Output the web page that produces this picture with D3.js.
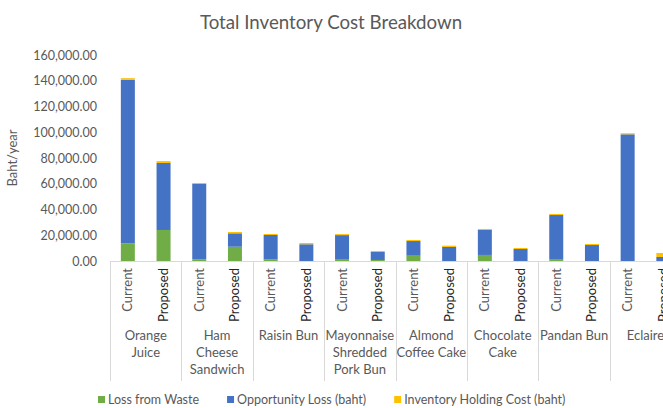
<!DOCTYPE html>
<html>
<head>
<meta charset="utf-8">
<script src="https://cdn.jsdelivr.net/npm/d3@7"></script>
<style>
  html, body { margin: 0; padding: 0; background: #fff; overflow: hidden; }
  svg { display: block; font-family: Lato, "Open Sans", sans-serif; }
</style>
</head>
<body>
<svg id="chart" width="663" height="408"></svg>
<script>
// Products (outer axis level) and their wrapped label lines
const categories = ["Orange Juice", "Ham Cheese Sandwich", "Raisin Bun",
  "Mayonnaise Shredded Pork Bun", "Almond Coffee Cake", "Chocolate Cake",
  "Pandan Bun", "Eclaire"];
const categoryLines = [["Orange", "Juice"], ["Ham", "Cheese", "Sandwich"], ["Raisin Bun"],
  ["Mayonnaise", "Shredded", "Pork Bun"], ["Almond", "Coffee Cake"], ["Chocolate", "Cake"],
  ["Pandan Bun"], ["Eclaire"]];
// Scenarios (inner axis level)
const scenarios = ["Current", "Proposed"];

// Values in baht/year, ordered product by product: Current, Proposed
const lossFromWaste = [13700, 24100, 1300, 11100, 1300, 0, 1500, 800,
  4100, 0, 4700, 0, 1500, 0, 0, 0];
const opportunityLoss = [127000, 52000, 58500, 10400, 18900, 13000, 18600, 6200,
  11400, 10900, 19400, 9300, 34200, 12400, 98400, 3100];
const holdingCost = [1300, 1500, 800, 1000, 800, 1000, 800, 800,
  800, 1000, 800, 800, 800, 800, 800, 3100];

const seriesNames = ["Loss from Waste", "Opportunity Loss (baht)", "Inventory Holding Cost (baht)"];
const seriesKeys = ["waste", "opportunity", "holding"];
const colors = ["#70AD47", "#4472C4", "#FFC000"];
const yTicks = [0, 20000, 40000, 60000, 80000, 100000, 120000, 140000, 160000];

const rows = [];
categories.forEach((c, i) => scenarios.forEach((s, j) => {
  const k = i * 2 + j;
  rows.push({ category: c, scenario: s, waste: lossFromWaste[k],
    opportunity: opportunityLoss[k], holding: holdingCost[k] });
}));

const svg = d3.select("#chart");
const textGray = "#595959";

const plotLeft = 110, groupWidth = 71.4;
const yBase = 261, yTop = 55;

const x0 = d3.scaleBand().domain(categories)
  .range([plotLeft, plotLeft + groupWidth * categories.length]).padding(0);
const x1 = d3.scaleBand().domain(scenarios)
  .range([0, x0.bandwidth()]).paddingInner(0.608).paddingOuter(0.304);
const y = d3.scaleLinear().domain([0, 160000]).range([yBase, yTop]);

// Title
svg.append("text")
  .attr("x", 331).attr("y", 29)
  .attr("text-anchor", "middle")
  .attr("fill", textGray)
  .style("font-size", "18.7px")
  .text("Total Inventory Cost Breakdown");

// Y axis (labels only)
const yAxis = d3.axisLeft(y).tickValues(yTicks).tickSize(0).tickPadding(0)
  .tickFormat(d3.format(",.2f"));
const gy = svg.append("g").attr("transform", "translate(97,0)").call(yAxis);
gy.select(".domain").remove();
gy.selectAll("text").attr("fill", textGray).style("font-size", "12.5px")
  .style("font-family", "Lato, 'Open Sans', sans-serif");

svg.append("text")
  .attr("transform", "translate(17,158) rotate(-90)")
  .attr("text-anchor", "middle")
  .attr("fill", textGray)
  .style("font-size", "13px")
  .text("Baht/year");

// Stacked bars
const stack = d3.stack().keys(seriesKeys);
const stacked = stack(rows);
svg.append("g").selectAll("g")
  .data(stacked).join("g")
  .attr("fill", (d, i) => colors[i])
  .selectAll("rect")
  .data(d => d).join("rect")
  .attr("x", d => x0(d.data.category) + x1(d.data.scenario))
  .attr("width", x1.bandwidth())
  .attr("y", d => y(d[1]))
  .attr("height", d => y(d[0]) - y(d[1]));

// Category axis: baseline and group separators
const axisColor = "#d9d9d9";
svg.append("line")
  .attr("x1", x0.range()[0]).attr("x2", x0.range()[1])
  .attr("y1", yBase + 0.5).attr("y2", yBase + 0.5)
  .attr("stroke", axisColor);
const bounds = categories.map(c => x0(c)).concat([x0.range()[1]]);
svg.append("g").selectAll("line").data(bounds).join("line")
  .attr("x1", d => Math.round(d) + 0.5).attr("x2", d => Math.round(d) + 0.5)
  .attr("y1", yBase).attr("y2", 381)
  .attr("stroke", axisColor);

// Inner labels (rotated)
svg.append("g").selectAll("text").data(rows).join("text")
  .attr("transform", d => `translate(${x0(d.category) + x1(d.scenario) + x1.bandwidth() / 2 + 4.5},268) rotate(-90)`)
  .attr("text-anchor", "end")
  .attr("fill", d => d.scenario === "Proposed" ? "#262626" : textGray)
  .style("font-size", "13px")
  .text(d => d.scenario);

// Outer labels (wrapped)
const outer = svg.append("g").selectAll("text").data(categories).join("text")
  .attr("text-anchor", "middle")
  .attr("fill", textGray)
  .style("font-size", "13px");
outer.each(function (c, i) {
  const t = d3.select(this);
  categoryLines[i].forEach((line, li) => {
    t.append("tspan")
      .attr("x", x0(c) + x0.bandwidth() / 2)
      .attr("y", 340 + li * 17)
      .text(line);
  });
});

// Legend
const legend = svg.append("g");
let lx = 98;
seriesNames.forEach((name, i) => {
  legend.append("rect").attr("x", lx).attr("y", 396).attr("width", 7).attr("height", 7)
    .attr("fill", colors[i]);
  const t = legend.append("text").attr("x", lx + 10).attr("y", 404)
    .attr("fill", textGray).style("font-size", "12.5px").text(name);
  lx += 10 + t.node().getComputedTextLength() + 28;
});
</script>
</body>
</html>
